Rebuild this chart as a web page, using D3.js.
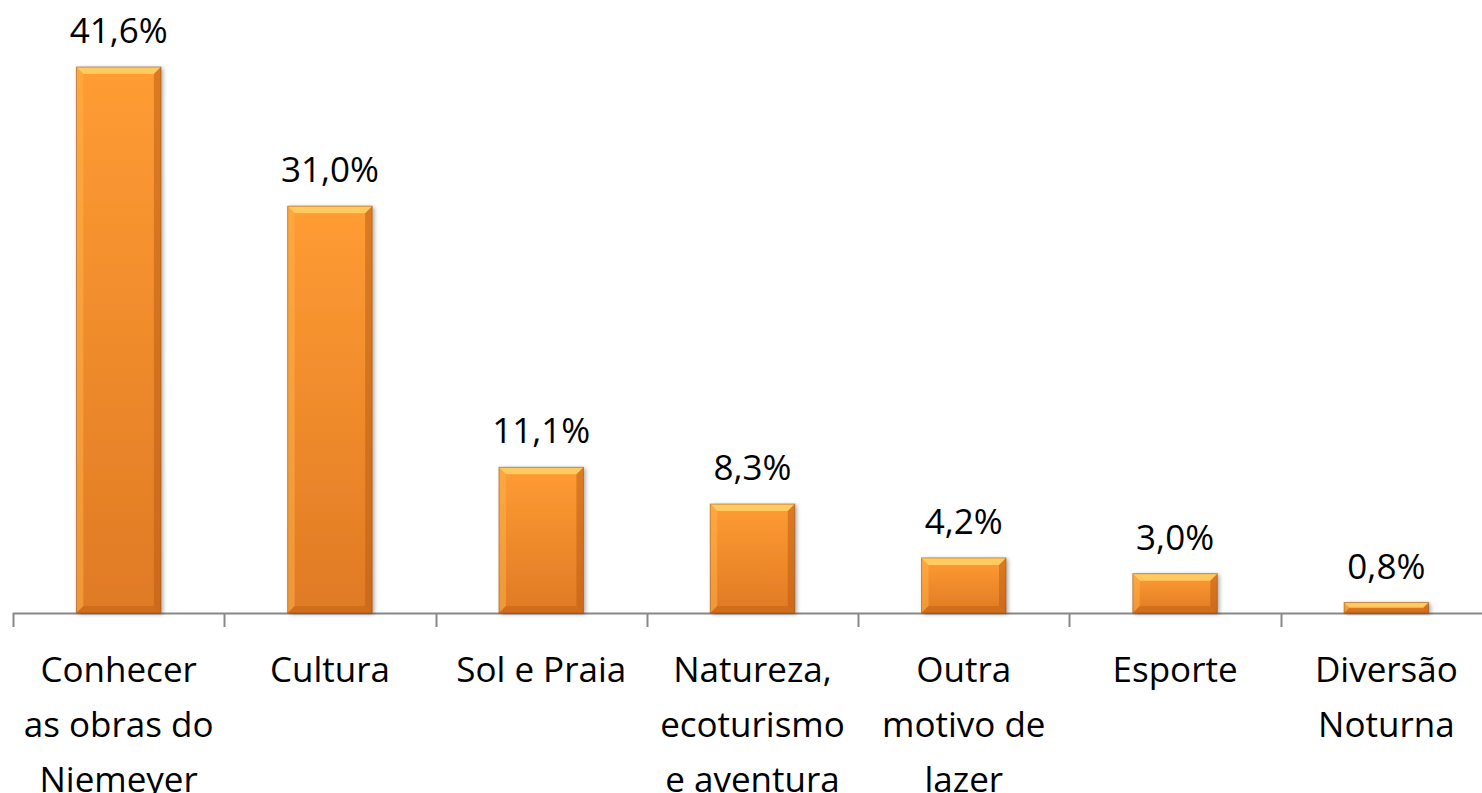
<!DOCTYPE html>
<html>
<head>
<meta charset="utf-8">
<script src="https://cdn.jsdelivr.net/npm/d3@7"></script>
<style>
  body { margin: 0; background: #fff; overflow: hidden; }
  text { font-family: "Open Sans", Lato, sans-serif; fill: #000; }
</style>
</head>
<body>
<div id="chart"></div>
<script>
const categories = [
    ["Conhecer", "as obras do", "Niemeyer"],
    ["Cultura"],
    ["Sol e Praia"],
    ["Natureza,", "ecoturismo", "e aventura"],
    ["Outra", "motivo de", "lazer"],
    ["Esporte"],
    ["Diversão", "Noturna"]
];
const values = [41.6, 31.0, 11.1, 8.3, 4.2, 3.0, 0.8];
const valueLabels = ["41,6%", "31,0%", "11,1%", "8,3%", "4,2%", "3,0%", "0,8%"];

const W = 1482, H = 793;
const left = 13, right = 1492, baseY = 613;

const svg = d3.select("#chart").append("svg")
    .attr("width", W).attr("height", H);

const defs = svg.append("defs");
const grad = defs.append("linearGradient")
    .attr("id", "barGrad").attr("x1", 0).attr("y1", 0).attr("x2", 0).attr("y2", 1);
grad.append("stop").attr("offset", "0%").attr("stop-color", "#ff9c33");
grad.append("stop").attr("offset", "100%").attr("stop-color", "#e07a25");

const shadow = defs.append("filter").attr("id", "shadow")
    .attr("x", "-20%").attr("y", "-20%").attr("width", "140%").attr("height", "140%");
shadow.append("feDropShadow").attr("dx", 2).attr("dy", 1).attr("stdDeviation", 2)
    .attr("flood-color", "#000").attr("flood-opacity", 0.35);

const x = d3.scaleBand()
    .domain(d3.range(categories.length))
    .range([left, right])
    .paddingInner(0.6)
    .paddingOuter(0.3);

const xTicks = d3.scaleLinear().domain([0, categories.length]).range([left, right]);

const y = d3.scaleLinear().domain([0, 45]).range([baseY, baseY - 45 * 13.125]);

// axis line and ticks
svg.append("line")
    .attr("x1", left).attr("x2", right)
    .attr("y1", baseY + 0.5).attr("y2", baseY + 0.5)
    .attr("stroke", "#888").attr("stroke-width", 2);

svg.selectAll(".tick")
    .data(d3.range(categories.length + 1))
    .enter().append("line")
    .attr("x1", d => Math.round(xTicks(d)) + 0.5)
    .attr("x2", d => Math.round(xTicks(d)) + 0.5)
    .attr("y1", baseY).attr("y2", baseY + 14)
    .attr("stroke", "#888").attr("stroke-width", 2);

const bw = x.bandwidth();
const bev = 7;

const bars = svg.selectAll(".bar")
    .data(values)
    .enter().append("g")
    .attr("class", "bar")
    .attr("transform", (d, i) => `translate(${x(i)},${y(d)})`);

bars.append("rect")
    .attr("width", bw)
    .attr("height", d => baseY - y(d))
    .attr("fill", "url(#barGrad)")
    .attr("filter", "url(#shadow)");

// bevel edges
bars.each(function(d) {
    const g = d3.select(this);
    const h = baseY - y(d);
    const b = Math.min(bev, h / 2);
    g.append("path")
        .attr("d", `M0,0 L${bw},0 L${bw - b},${b} L${b},${b} Z`)
        .attr("fill", "#ffd36a").attr("opacity", 0.85);
    g.append("path")
        .attr("d", `M0,0 L${b},${b} L${b},${h - b} L0,${h} Z`)
        .attr("fill", "#ffb347").attr("opacity", 0.5);
    g.append("path")
        .attr("d", `M${bw},0 L${bw},${h} L${bw - b},${h - b} L${bw - b},${b} Z`)
        .attr("fill", "#b85a10").attr("opacity", 0.5);
    g.append("path")
        .attr("d", `M0,${h} L${b},${h - b} L${bw - b},${h - b} L${bw},${h} Z`)
        .attr("fill", "#b85a10").attr("opacity", 0.4);
    g.append("rect")
        .attr("width", bw).attr("height", h)
        .attr("fill", "none").attr("stroke", "#8a4a10").attr("stroke-opacity", 0.5).attr("stroke-width", 1);
});

// value labels
svg.selectAll(".vlabel")
    .data(values)
    .enter().append("text")
    .attr("class", "vlabel")
    .attr("x", (d, i) => x(i) + bw / 2)
    .attr("y", d => y(d) - 24)
    .attr("text-anchor", "middle")
    .style("font-size", "35px")
    .text((d, i) => valueLabels[i]);

// category labels
const cl = svg.selectAll(".clabel")
    .data(categories)
    .enter().append("text")
    .attr("class", "clabel")
    .attr("text-anchor", "middle")
    .style("font-size", "35px");

cl.selectAll("tspan")
    .data((d, i) => d.map(t => ({ t, i })))
    .enter().append("tspan")
    .attr("x", d => x(d.i) + bw / 2)
    .attr("y", (d, j) => 682 + j * 55)
    .text(d => d.t);
</script>
</body>
</html>
